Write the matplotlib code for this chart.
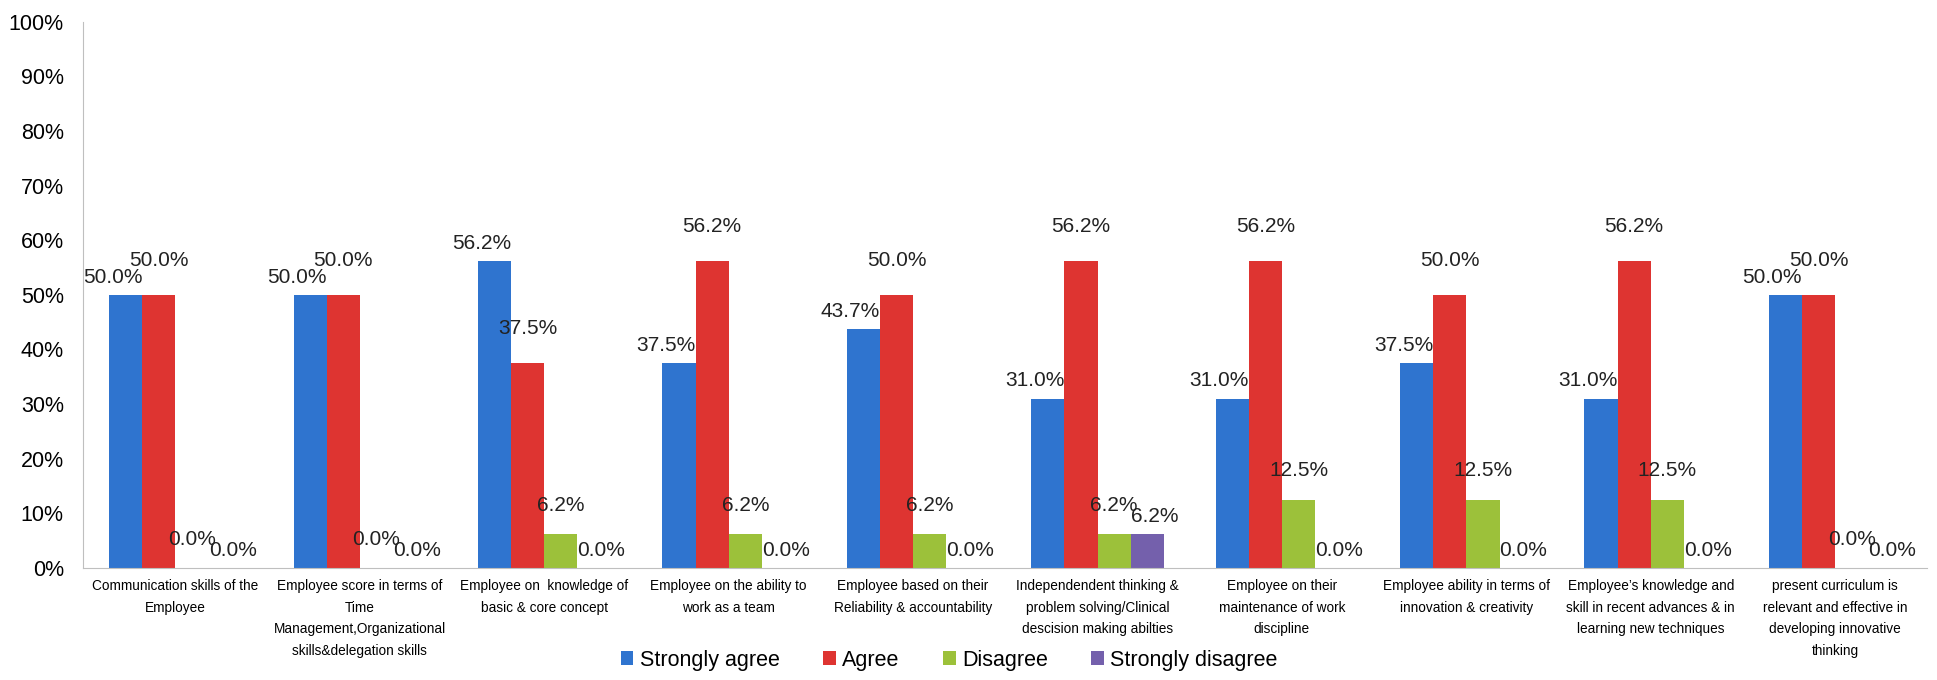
import numpy as np
import matplotlib
matplotlib.use("Agg")
import matplotlib.pyplot as plt

# survey answers per statement (percent)
categories = [
    "Communication skills of the\nEmployee",
    "Employee score in terms of\nTime\nManagement,Organizational\nskills&delegation skills",
    "Employee on  knowledge of\nbasic & core concept",
    "Employee on the ability to\nwork as a team",
    "Employee based on their\nReliability & accountability",
    "Independendent thinking &\nproblem solving/Clinical\ndescision making abilties",
    "Employee on their\nmaintenance of work\ndiscipline",
    "Employee ability in terms of\ninnovation & creativity",
    "Employee\u2019s knowledge and\nskill in recent advances & in\nlearning new techniques",
    "present curriculum is\nrelevant and effective in\ndeveloping innovative\nthinking",
]
strongly_agree = [50.0, 50.0, 56.2, 37.5, 43.7, 31.0, 31.0, 37.5, 31.0, 50.0]
agree = [50.0, 50.0, 37.5, 56.2, 50.0, 56.2, 56.2, 50.0, 56.2, 50.0]
disagree = [0.0, 0.0, 6.2, 6.2, 6.2, 6.2, 12.5, 12.5, 12.5, 0.0]
strongly_disagree = [0.0, 0.0, 0.0, 0.0, 0.0, 6.2, 0.0, 0.0, 0.0, 0.0]
series_names = ["Strongly agree", "Agree", "Disagree", "Strongly disagree"]
colors = ["#2F74CF", "#DE3431", "#9CC13A", "#7460AC"]

plt.rcParams["font.family"] = ["Liberation Sans", "DejaVu Sans"]

fig = plt.figure(figsize=(19.37, 6.8), dpi=100)
ax = fig.add_axes([0.043, 0.165, 0.952, 0.803])

x = np.arange(len(categories))
w = 0.18
series = [strongly_agree, agree, disagree, strongly_disagree]
offsets = [-1.5 * w, -0.5 * w, 0.5 * w, 1.5 * w]
for vals, off, col, name in zip(series, offsets, colors, series_names):
    ax.bar(x + off, vals, w, color=col, label=name, zorder=2)

lbl = dict(fontsize=15, color="#222222", zorder=3)
for i in range(len(categories)):
    ax.text(x[i] - w, strongly_agree[i] + 1.5, f"{strongly_agree[i]:.1f}%", ha="right", va="bottom", **lbl)
    ax.text(x[i] - 0.5 * w, agree[i] + 4.5, f"{agree[i]:.1f}%", ha="center", va="bottom", **lbl)
    ax.text(x[i] + 0.5 * w, disagree[i] + 3.5, f"{disagree[i]:.1f}%", ha="center", va="bottom", **lbl)
    ax.text(x[i] + w, strongly_disagree[i] + 1.5, f"{strongly_disagree[i]:.1f}%", ha="left", va="bottom", **lbl)

ax.set_ylim(0, 100)
ax.set_xlim(-0.5, len(categories) - 0.5)
ax.set_yticks(np.arange(0, 101, 10))
ax.set_yticklabels([f"{v}%" for v in range(0, 101, 10)], fontsize=15.5)
ax.set_xticks(x)
ax.set_xticklabels(categories, fontsize=9.8, linespacing=1.7)
ax.tick_params(axis="x", length=0, pad=8)
ax.tick_params(axis="y", length=0, pad=14)
for s in ["top", "right"]:
    ax.spines[s].set_visible(False)
ax.spines["left"].set_color("#BFBFBF")
ax.spines["bottom"].set_color("#BFBFBF")

fig.legend(loc="lower center", bbox_to_anchor=(0.49, -0.015), ncol=4, frameon=False,
           fontsize=15.5, handlelength=0.6, handleheight=0.6, handletextpad=0.3, columnspacing=2.0)

fig.savefig("out.png", dpi=100)
